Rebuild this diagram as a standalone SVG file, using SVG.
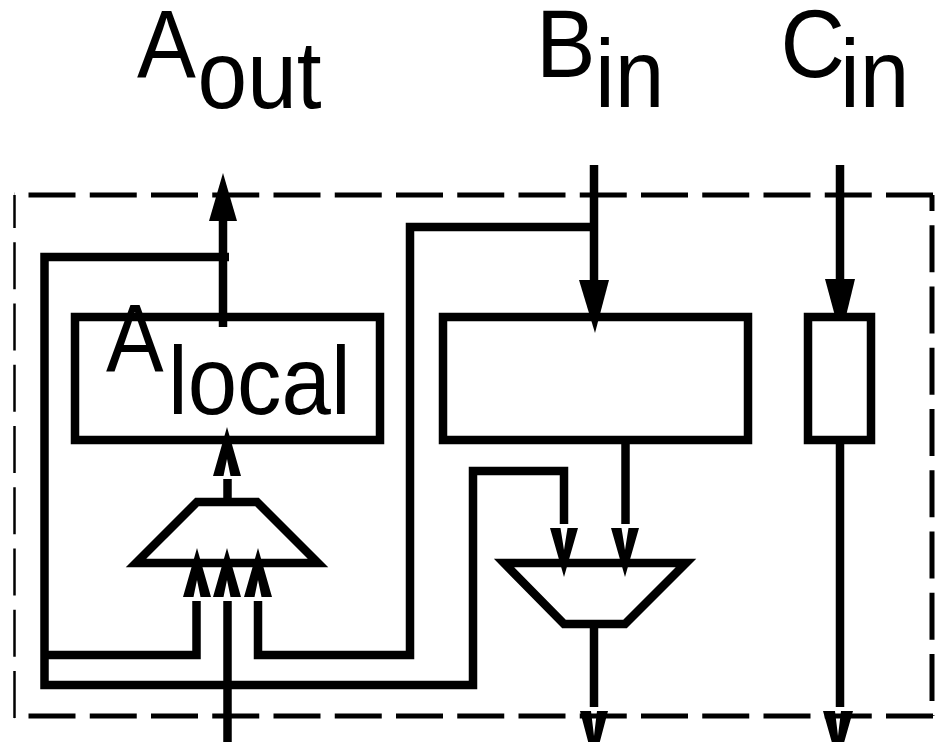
<svg xmlns="http://www.w3.org/2000/svg" width="943" height="742" viewBox="0 0 943 742">
<style>
.w{fill:none;stroke:#000;stroke-width:8.5;stroke-linejoin:miter;stroke-linecap:butt}
.b{fill:#fff;stroke:#000;stroke-width:8.5;stroke-linejoin:miter}
.d{fill:none;stroke:#000;stroke-dasharray:47 14.25}
.h{fill:#000;stroke:none}
.t{font-family:"Liberation Sans",Arial,sans-serif;fill:#000;font-size:96px}
</style>
<rect width="943" height="742" fill="#fff"/>
<g id="boundary">
<path class="d" stroke-width="5" d="M933 195H14"/>
<path class="d" stroke-width="5" d="M933 716H14"/>
<path class="d" stroke-width="5" d="M932 195V716" stroke-dashoffset="31"/>
<path class="d" stroke-width="2.500" d="M14.500 718V195"/>
</g>
<g id="connectors">
<polygon class="h" points="223,173 237,221 209,221"/>
<path class="w" d="M229 257H44.500V685H473V471H564V524"/>
<path class="w" d="M44.500 655H196.500V601"/>
<path class="w" d="M227.500 742V601"/>
<path class="w" d="M258 601V655H410V227H594"/>
<path class="w" d="M594 165V285"/>
<path class="w" d="M840 165V285"/>
<path class="w" d="M227.500 502V479"/>
<path class="w" d="M625.500 444V524"/>
<path class="w" d="M594 627V707"/>
<path class="w" d="M840 444V707"/>
</g>
<g id="a-local"><rect class="b" x="75" y="317" width="305" height="123"/></g>
<g id="b-reg"><rect class="b" x="443" y="317" width="305" height="123"/></g>
<g id="c-reg"><rect class="b" x="808" y="317" width="63" height="123"/></g>
<g id="mux-a"><polygon class="b" points="197,502 257,502 318,563 136,563"/></g>
<g id="mux-b"><polygon class="b" points="504,563 686,563 625,624 564,624"/></g>
<g id="heads">
<path class="w" d="M223 327V215"/>
<polygon class="h" points="579,280 609,280 595,333"/>
<polygon class="h" points="825,279 855,279 846,316 835,316"/>
<polygon class="h" points="227,427 241,476 230.500,476 227,459 223.500,476 213,476"/>
<polygon class="h" points="197,548 211,597 200.500,597 197,580 193.500,597 183,597"/>
<polygon class="h" points="227,548 241,597 230.500,597 227,580 223.500,597 213,597"/>
<polygon class="h" points="258,548 272,597 261.500,597 258,580 254.500,597 244,597"/>
<polygon class="h" points="564,577 578,528 567.500,528 564,550 560.500,528 550,528"/>
<polygon class="h" points="625,577 639,528 628.500,528 625,550 621.500,528 611,528"/>
<polygon class="h" points="594,764 608,711 597,711 594,736 591,711 580,711"/>
<polygon class="h" points="838,764 853,711 841,711 838,736 835,711 823,711"/>
</g>
<g id="labels">
<text class="t" transform="matrix(.92 0 0 1 137 77)">A</text>
<text class="t" transform="matrix(.93 0 0 1 197.500 108)">out</text>
<text class="t" transform="matrix(.93 0 0 1 536 77)">B</text>
<text class="t" transform="matrix(.93 0 0 1 595 107)">in</text>
<text class="t" transform="matrix(.93 0 0 1 780.500 77)">C</text>
<text class="t" transform="matrix(.93 0 0 1 840 107)">in</text>
<text class="t" transform="matrix(.9 0 0 1 106 371)">A</text>
<text class="t" transform="matrix(.925 0 0 1 168 414)">local</text>
</g>
</svg>
